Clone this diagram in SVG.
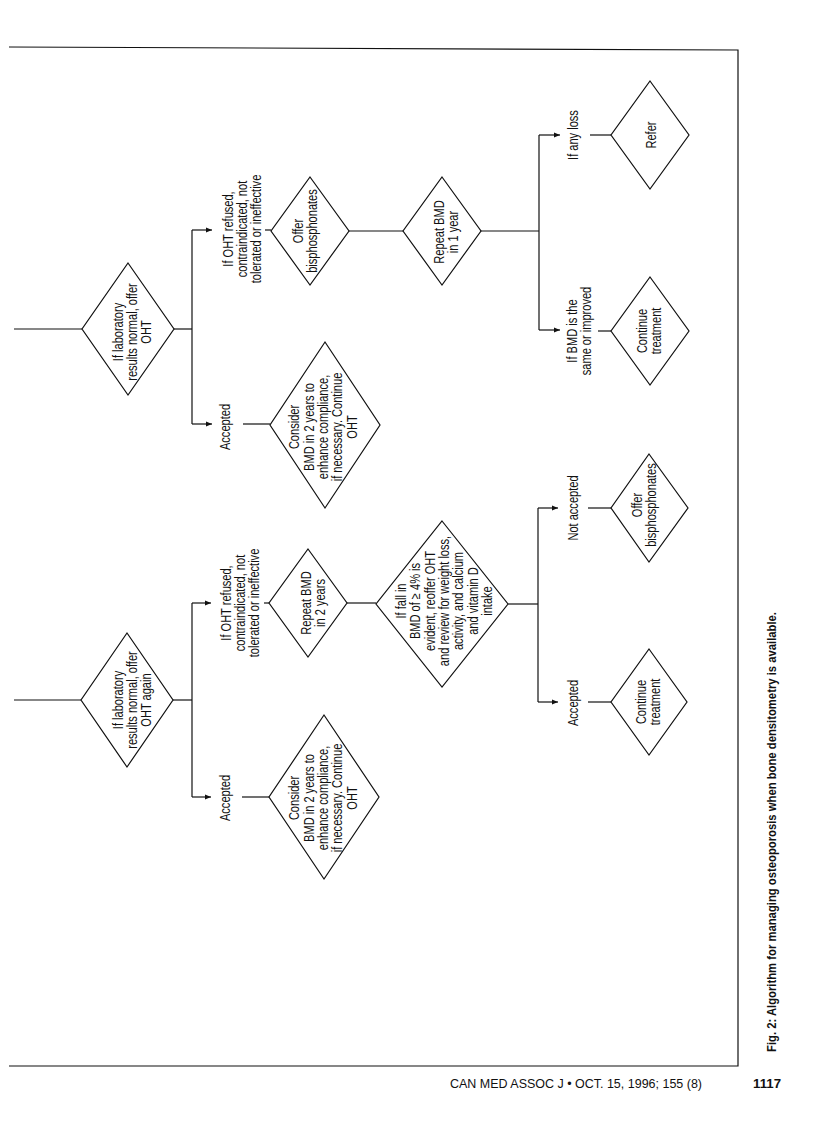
<svg xmlns="http://www.w3.org/2000/svg" width="816" height="1128" viewBox="0 0 816 1128">
<style>
.d{fill:#fff;stroke:#111;stroke-width:1.2}
.c{fill:none;stroke:#111;stroke-width:1.2}
.t{font-family:"Liberation Sans",Arial,sans-serif;font-size:14px;fill:#111;text-anchor:middle}
</style>
<defs>
<marker id="ah" markerWidth="7" markerHeight="6" refX="6" refY="3" orient="auto" markerUnits="userSpaceOnUse">
<path d="M0,0.5 L6,3 L0,5.5 Z" fill="#111"/>
</marker>
</defs>
<rect width="816" height="1128" fill="#fff"/>
<path class="c" d="M9,47 L738,50 L738,1066 L9,1066"/>

<g id="connectors">
<path class="c" d="M14,329 H82"/>
<path class="c" d="M174,329 H192"/>
<path class="c" d="M192,230 V424"/>
<path class="c" d="M192,230 H212" marker-end="url(#ah)"/>
<path class="c" d="M192,424 H212" marker-end="url(#ah)"/>
<path class="c" d="M243,424 H270"/>
<path class="c" d="M265,230 H271"/>
<path class="c" d="M349,231 H403"/>
<path class="c" d="M481,231 H539"/>
<path class="c" d="M539,135 V330"/>
<path class="c" d="M539,135 H560" marker-end="url(#ah)"/>
<path class="c" d="M539,330 H560" marker-end="url(#ah)"/>
<path class="c" d="M590,135 H611"/>
<path class="c" d="M598,331 H611"/>

<path class="c" d="M14,700 H81"/>
<path class="c" d="M173,700 H192"/>
<path class="c" d="M192,603 V797"/>
<path class="c" d="M192,603 H211" marker-end="url(#ah)"/>
<path class="c" d="M192,797 H211" marker-end="url(#ah)"/>
<path class="c" d="M242,797 H269"/>
<path class="c" d="M264,603 H270"/>
<path class="c" d="M347,603 H376"/>
<path class="c" d="M508,604 H538"/>
<path class="c" d="M538,508 V702"/>
<path class="c" d="M538,508 H558" marker-end="url(#ah)"/>
<path class="c" d="M538,702 H558" marker-end="url(#ah)"/>
<path class="c" d="M588,508 H611"/>
<path class="c" d="M588,702 H611"/>
</g>

<g id="lab1">
<polygon class="d" points="128,263 174,329 128,395 82,329"/>
<g transform="translate(132,332) rotate(-90) scale(0.79,1)"><text class="t"><tspan x="0" y="-9.5">If laboratory</tspan><tspan x="0" y="5">results normal, offer</tspan><tspan x="0" y="19.5">OHT</tspan></text></g>
</g>
<g id="lbl-accepted1">
<g transform="translate(225,427) rotate(-90) scale(0.79,1)"><text class="t"><tspan x="0" y="5">Accepted</tspan></text></g>
</g>
<g id="consider1">
<polygon class="d" points="325,342 380,425 325,508 270,425"/>
<g transform="translate(323,427) rotate(-90) scale(0.79,1)"><text class="t"><tspan x="0" y="-24">Consider</tspan><tspan x="0" y="-9.5">BMD in 2 years to</tspan><tspan x="0" y="5">enhance compliance,</tspan><tspan x="0" y="19.5">if necessary. Continue</tspan><tspan x="0" y="34">OHT</tspan></text></g>
</g>
<g id="lbl-refused1">
<g transform="translate(242,229) rotate(-90) scale(0.79,1)"><text class="t"><tspan x="0" y="-9.5">If OHT refused,</tspan><tspan x="0" y="5">contraindicated, not</tspan><tspan x="0" y="19.5">tolerated or ineffective</tspan></text></g>
</g>
<g id="bisph1">
<polygon class="d" points="310,177 349,231 310,285 271,231"/>
<g transform="translate(305,231) rotate(-90) scale(0.79,1)"><text class="t"><tspan x="0" y="-2.25">Offer</tspan><tspan x="0" y="12.25">bisphosphonates</tspan></text></g>
</g>
<g id="repeat1">
<polygon class="d" points="442,177 481,231 442,285 403,231"/>
<g transform="translate(446,232) rotate(-90) scale(0.79,1)"><text class="t"><tspan x="0" y="-2.25">Repeat BMD</tspan><tspan x="0" y="12.25">in 1 year</tspan></text></g>
</g>
<g id="lbl-anyloss">
<g transform="translate(573,135) rotate(-90) scale(0.79,1)"><text class="t"><tspan x="0" y="5">If any loss</tspan></text></g>
</g>
<g id="refer">
<polygon class="d" points="650,81 689,135 650,189 611,135"/>
<g transform="translate(651,135) rotate(-90) scale(0.79,1)"><text class="t"><tspan x="0" y="5">Refer</tspan></text></g>
</g>
<g id="lbl-same">
<g transform="translate(579,331) rotate(-90) scale(0.79,1)"><text class="t"><tspan x="0" y="-2.25">If BMD is the</tspan><tspan x="0" y="12.25">same or improved</tspan></text></g>
</g>
<g id="continue1">
<polygon class="d" points="650,277 689,331 650,385 611,331"/>
<g transform="translate(649,331) rotate(-90) scale(0.79,1)"><text class="t"><tspan x="0" y="-2.25">Continue</tspan><tspan x="0" y="12.25">treatment</tspan></text></g>
</g>

<g id="lab2">
<polygon class="d" points="127,633 173,700 127,767 81,700"/>
<g transform="translate(132,700) rotate(-90) scale(0.79,1)"><text class="t"><tspan x="0" y="-9.5">If laboratory</tspan><tspan x="0" y="5">results normal, offer</tspan><tspan x="0" y="19.5">OHT again</tspan></text></g>
</g>
<g id="lbl-refused2">
<g transform="translate(240,603) rotate(-90) scale(0.79,1)"><text class="t"><tspan x="0" y="-9.5">If OHT refused,</tspan><tspan x="0" y="5">contraindicated, not</tspan><tspan x="0" y="19.5">tolerated or ineffective</tspan></text></g>
</g>
<g id="lbl-accepted2">
<g transform="translate(225,798) rotate(-90) scale(0.79,1)"><text class="t"><tspan x="0" y="5">Accepted</tspan></text></g>
</g>
<g id="consider2">
<polygon class="d" points="324,715 379,797 324,879 269,797"/>
<g transform="translate(323,798) rotate(-90) scale(0.79,1)"><text class="t"><tspan x="0" y="-24">Consider</tspan><tspan x="0" y="-9.5">BMD in 2 years to</tspan><tspan x="0" y="5">enhance compliance,</tspan><tspan x="0" y="19.5">if necessary. Continue</tspan><tspan x="0" y="34">OHT</tspan></text></g>
</g>
<g id="repeat2">
<polygon class="d" points="308,549 347,603 308,657 269,603"/>
<g transform="translate(313,603) rotate(-90) scale(0.79,1)"><text class="t"><tspan x="0" y="-2.25">Repeat BMD</tspan><tspan x="0" y="12.25">in 2 years</tspan></text></g>
</g>
<g id="fall">
<polygon class="d" points="442,521 508,604 442,687 376,604"/>
<g transform="translate(444,601) rotate(-90) scale(0.79,1)"><text class="t"><tspan x="0" y="-38.5">If fall in</tspan><tspan x="0" y="-24">BMD of ≥ 4% is</tspan><tspan x="0" y="-9.5">evident, reoffer OHT</tspan><tspan x="0" y="5">and review for weight loss,</tspan><tspan x="0" y="19.5">activity, and calcium</tspan><tspan x="0" y="34">and vitamin D</tspan><tspan x="0" y="48.5">intake</tspan></text></g>
</g>
<g id="lbl-notaccepted">
<g transform="translate(573,508) rotate(-90) scale(0.79,1)"><text class="t"><tspan x="0" y="5">Not accepted</tspan></text></g>
</g>
<g id="bisph2">
<polygon class="d" points="649,454 688,508 649,562 611,508"/>
<g transform="translate(644,505) rotate(-90) scale(0.79,1)"><text class="t"><tspan x="0" y="-2.25">Offer</tspan><tspan x="0" y="12.25">bisphosphonates</tspan></text></g>
</g>
<g id="lbl-accepted3">
<g transform="translate(573,703) rotate(-90) scale(0.79,1)"><text class="t"><tspan x="0" y="5">Accepted</tspan></text></g>
</g>
<g id="continue2">
<polygon class="d" points="649,649 687,702 649,755 611,702"/>
<g transform="translate(648,702) rotate(-90) scale(0.79,1)"><text class="t"><tspan x="0" y="-2.25">Continue</tspan><tspan x="0" y="12.25">treatment</tspan></text></g>
</g>

<g id="caption">
<g transform="translate(776,1052) rotate(-90)"><text x="0" y="0" font-family="Liberation Sans, Arial, sans-serif" font-size="13" font-weight="bold" fill="#111" textLength="440" lengthAdjust="spacingAndGlyphs">Fig. 2: Algorithm for managing osteoporosis when bone densitometry is available.</text></g>
</g>
<g id="footer">
<text x="450" y="1088" font-family="Liberation Sans, Arial, sans-serif" font-size="12" fill="#111" textLength="252" lengthAdjust="spacingAndGlyphs">CAN MED ASSOC J • OCT. 15, 1996; 155 (8)</text>
<text x="753" y="1088" font-family="Liberation Sans, Arial, sans-serif" font-size="12" font-weight="bold" fill="#111" textLength="28" lengthAdjust="spacingAndGlyphs">1117</text>
</g>
</svg>
